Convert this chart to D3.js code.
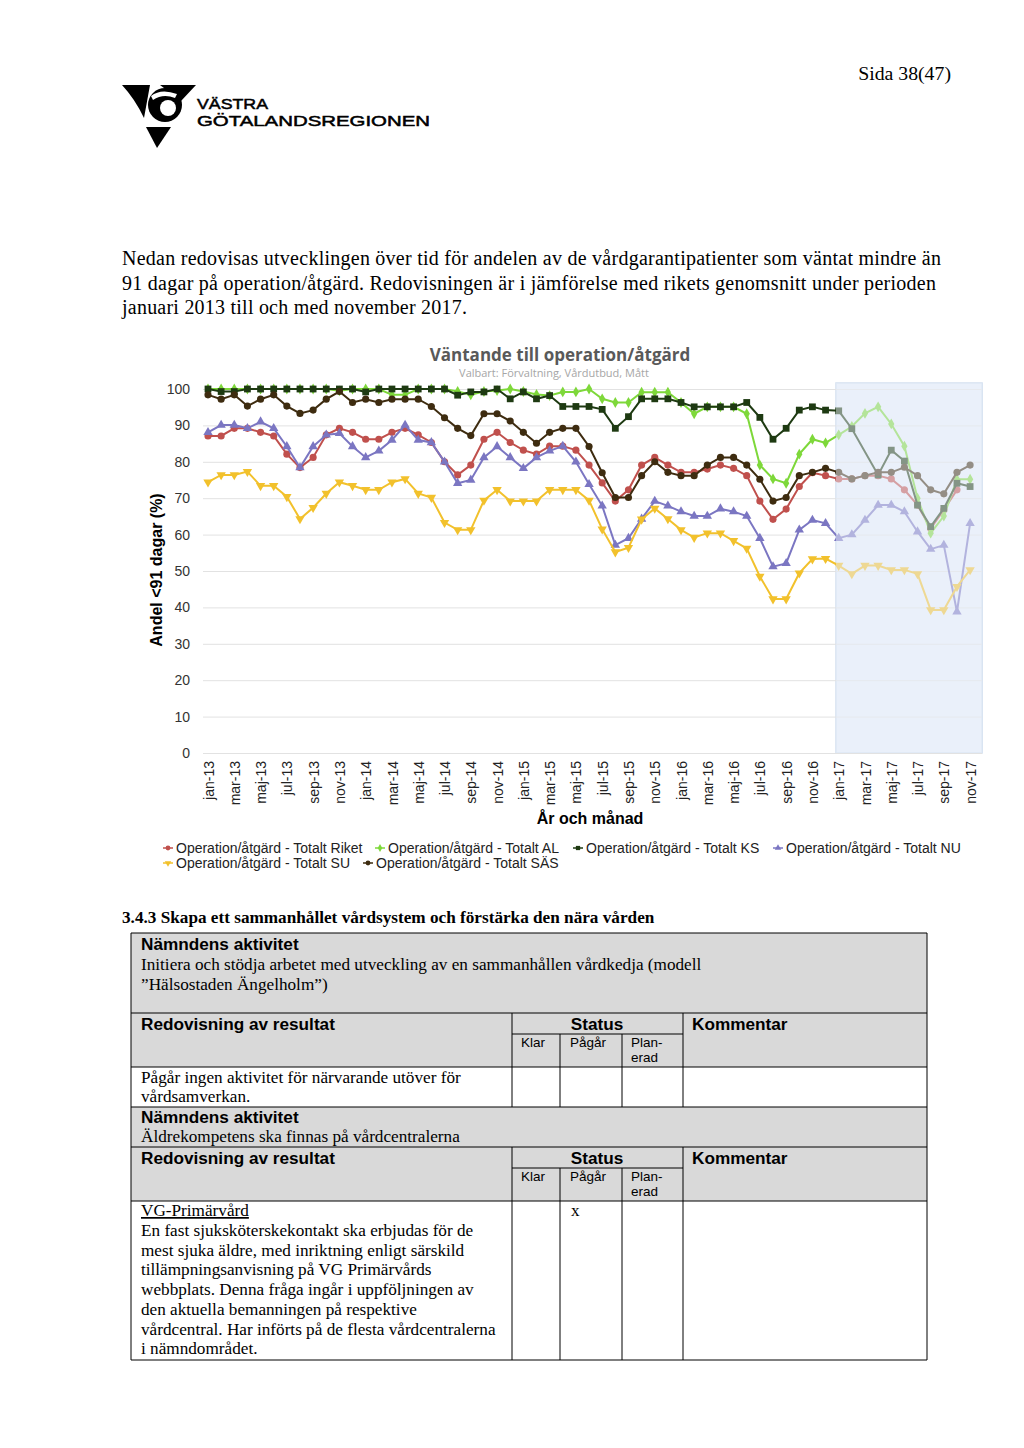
<!DOCTYPE html>
<html><head><meta charset="utf-8">
<script src="https://cdn.jsdelivr.net/npm/d3@7"></script>
<style>body{margin:0;background:#fff} svg{display:block}</style>
</head><body>
<svg id="page" width="1024" height="1448"></svg>
<script>
// ---------- DATA ----------
const months = [
 "jan-13","feb-13","mar-13","apr-13","maj-13","jun-13","jul-13","aug-13","sep-13","okt-13","nov-13","dec-13",
 "jan-14","feb-14","mar-14","apr-14","maj-14","jun-14","jul-14","aug-14","sep-14","okt-14","nov-14","dec-14",
 "jan-15","feb-15","mar-15","apr-15","maj-15","jun-15","jul-15","aug-15","sep-15","okt-15","nov-15","dec-15",
 "jan-16","feb-16","mar-16","apr-16","maj-16","jun-16","jul-16","aug-16","sep-16","okt-16","nov-16","dec-16",
 "jan-17","feb-17","mar-17","apr-17","maj-17","jun-17","jul-17","aug-17","sep-17","okt-17","nov-17"];
const xTickLabels = ["jan-13","mar-13","maj-13","jul-13","sep-13","nov-13","jan-14","mar-14","maj-14","jul-14","sep-14","nov-14",
 "jan-15","mar-15","maj-15","jul-15","sep-15","nov-15","jan-16","mar-16","maj-16","jul-16","sep-16","nov-16",
 "jan-17","mar-17","maj-17","jul-17","sep-17","nov-17"];
const yTicks = [0,10,20,30,40,50,60,70,80,90,100];
const highlightStart = "jan-17", highlightEnd = "nov-17";

const riket = [87.1,87.1,89.2,89.2,88.1,87.1,82.1,78.4,81.2,87.4,89.2,88.1,
 86.2,86.2,88.1,89.2,87.4,85.3,80.0,76.4,79.1,86.2,88.1,85.3,
 83.2,82.1,84.3,84.3,83.2,79.1,74.2,69.2,72.3,79.1,81.2,79.1,
 77.1,77.1,78.0,79.1,78.2,76.2,69.2,64.2,67.0,73.2,77.0,76.2,
 75.3,75.3,76.2,76.2,75.3,72.3,68.1,61.7,66.8,72.3,null];
const al = [100,100,100,100,100,100,100,100,100,100,99.5,100,
 100,100,98.4,98.4,100,100,100,99.3,98.4,99.3,99.6,100,
 99.3,98.5,98.2,99.2,99.2,100,97.3,96.3,96.3,99.1,99.1,99.1,
 96.3,93.2,95.1,95.1,95.1,93.2,79.1,75.3,74.1,82.1,86.2,85.2,
 87.4,89.7,93.3,95.1,90.4,84.3,70.0,60.4,65.1,75.2,75.2];
const ks = [100,99.3,99.3,100,100,100,100,100,100,100,100,100,
 99.2,100,100,100,100,100,100,98.3,99.2,99.2,100,97.3,
 99.2,97.3,98.2,95.2,95.2,95.2,94.4,89.2,92.4,97.3,97.3,97.3,
 96.3,95.1,95.1,95.1,95.1,96.3,92.2,86.2,89.2,94.2,95.1,94.2,
 94.0,89.1,null,76.4,83.2,80.2,68.1,62.2,67.2,74.1,73.2];
const nu = [88.1,90.1,90.1,89.2,91.0,89.2,84.2,78.4,84.2,87.4,87.8,84.2,
 81.2,83.0,86.0,90.1,86.0,85.3,80.0,74.1,75.0,81.2,84.2,81.2,
 78.2,81.2,83.0,84.3,80.0,73.8,67.9,57.1,59.0,64.3,69.2,67.9,
 66.3,65.1,65.1,67.1,66.3,65.1,59.0,51.2,52.1,61.3,64.0,63.1,
 59.0,60.0,64.0,68.1,68.1,66.3,60.8,56.0,57.1,38.8,63.1];
const su = [74.4,76.4,76.4,77.3,73.4,73.4,70.4,64.3,67.4,71.3,74.4,73.4,
 72.3,72.3,74.4,75.3,71.3,70.2,63.3,61.3,61.3,69.4,72.3,69.2,
 69.2,69.2,72.3,72.3,72.3,69.4,61.5,55.2,56.4,64.2,67.2,64.3,
 61.3,59.2,60.4,60.4,58.3,56.2,48.5,42.3,42.3,49.4,53.3,53.4,
 51.5,49.2,51.5,51.5,50.3,50.3,49.2,39.3,39.3,45.7,50.3];
const sas = [98.4,97.2,98.4,95.3,97.2,98.4,95.3,93.3,94.2,97.2,99.3,96.3,
 97.2,96.3,97.2,97.2,97.2,95.2,92.1,89.2,87.2,93.2,93.2,91.2,
 88.1,85.1,88.1,89.2,89.2,84.2,77.0,70.2,70.2,76.2,80.0,77.1,
 76.2,76.2,79.1,81.2,81.2,79.1,75.2,69.2,70.2,76.2,77.1,78.2,
 77.1,75.3,76.2,77.1,77.1,78.5,76.2,72.3,71.2,77.1,79.1];

const seriesNames = ["Operation/åtgärd - Totalt Riket","Operation/åtgärd - Totalt AL","Operation/åtgärd - Totalt KS",
 "Operation/åtgärd - Totalt NU","Operation/åtgärd - Totalt SU","Operation/åtgärd - Totalt SÄS"];
const seriesValues = [riket, al, ks, nu, su, sas];
const seriesColors = ["#C0504D","#7ED83A","#1E3A12","#7B76C2","#F2C12C","#3E2C10"];
const seriesMarkers = ["circle","diamond","square","triangle","triangleDown","circle"];

// ---------- PAGE ----------
const svg = d3.select("#page");
const serif = "'Liberation Serif','Times New Roman',serif";
const sans = "'Liberation Sans',Arial,sans-serif";

svg.append("text").attr("x",951).attr("y",80).attr("text-anchor","end")
  .style("font-family",serif).style("font-size","19.8px").text("Sida 38(47)");

// logo
const logo = svg.append("g").attr("fill","#000");
logo.append("path").attr("d","M122,85 L150,85 L144,118 Q135,99 122,85 Z");
logo.append("path").attr("d","M160,85 L196,85 L181,101 Z");
logo.append("circle").attr("cx",165).attr("cy",105).attr("r",17);
logo.append("circle").attr("cx",168).attr("cy",108).attr("r",8).attr("fill","#fff");
logo.append("path").attr("d","M151,96 Q161,88 177,94 L175,98 Q163,93 153,100 Z").attr("fill","#fff");
logo.append("path").attr("d","M146,127 L171,127 L157,148 Z");
logo.append("text").attr("x",197).attr("y",109).attr("textLength",71).attr("lengthAdjust","spacingAndGlyphs")
  .attr("stroke","#000").attr("stroke-width",0.5)
  .style("font-family",sans).style("font-size","15px").text("VÄSTRA");
logo.append("text").attr("x",197).attr("y",126).attr("textLength",233).attr("lengthAdjust","spacingAndGlyphs")
  .attr("stroke","#000").attr("stroke-width",0.5)
  .style("font-family",sans).style("font-size","15px").text("GÖTALANDSREGIONEN");

const para = ["Nedan redovisas utvecklingen över tid för andelen av de vårdgarantipatienter som väntat mindre än",
 "91 dagar på operation/åtgärd. Redovisningen är i jämförelse med rikets genomsnitt under perioden",
 "januari 2013 till och med november 2017."];
const paraW = [819, 814, 345];
para.forEach((t,i)=>{
  svg.append("text").attr("x",122).attr("y",265+i*24.5).attr("textLength",paraW[i]).attr("lengthAdjust","spacing")
   .style("font-family",serif).style("font-size","20px").text(t);
});

// ---------- CHART ----------
const plotL = 203, plotR = 982, yTop = 389, yBot = 753;
const x = d3.scalePoint().domain(months).range([208, 970.1]);
const y = d3.scaleLinear().domain([0,100]).range([yBot, yTop]);
const chart = svg.append("g");

chart.append("text").attr("x",560).attr("y",361).attr("text-anchor","middle")
  .style("font-family","'Open Sans',sans-serif").style("font-weight","700").style("font-size","17px")
  .attr("fill","#595959").text("Väntande till operation/åtgärd");
chart.append("text").attr("x",554).attr("y",377).attr("text-anchor","middle")
  .style("font-family","'Open Sans',sans-serif").style("font-size","11px")
  .attr("fill","#a6a6a6").text("Valbart: Förvaltning, Vårdutbud, Mått");

// highlight band background
const bandX0 = x(highlightStart) - 2.7, bandX1 = x(highlightEnd) + 12;
chart.append("rect").attr("x",bandX0).attr("y",383).attr("width",bandX1-bandX0).attr("height",yBot-383)
  .attr("fill","#eaf1fa").attr("stroke","#d3e0f0").attr("stroke-width",1.5);

// y axis + grid
const yAxis = chart.append("g").attr("transform",`translate(${plotL},0)`)
  .call(d3.axisLeft(y).tickValues(yTicks).tickSize(-(plotR-plotL)).tickPadding(13).tickFormat(d3.format("d")));
yAxis.select(".domain").remove();
yAxis.selectAll(".tick line").attr("stroke","#e2e2e2");
yAxis.selectAll(".tick text").style("font-family",sans).style("font-size","14px").attr("fill","#333");

// x axis
const xAxis = chart.append("g").attr("transform",`translate(0,${yBot})`)
  .call(d3.axisBottom(x).tickValues(xTickLabels).tickSize(0));
xAxis.select(".domain").remove();
xAxis.selectAll(".tick text").attr("transform","rotate(-90)").attr("x",-8).attr("y",0).attr("dy","0.36em")
  .attr("text-anchor","end").style("font-family",sans).style("font-size","14px").attr("fill","#222");

chart.append("text").attr("transform","translate(162,570) rotate(-90)").attr("text-anchor","middle")
  .style("font-family",sans).style("font-weight","700").style("font-size","16px").text("Andel <91 dagar (%)");
chart.append("text").attr("x",590).attr("y",824).attr("text-anchor","middle")
  .style("font-family",sans).style("font-weight","700").style("font-size","16px").text("År och månad");

// series
function symType(type){
  if(type==="circle") return d3.symbolCircle;
  if(type==="diamond") return d3.symbolDiamond;
  if(type==="square") return d3.symbolSquare;
  return d3.symbolTriangle;
}
const markerSize = {circle:40, diamond:34, square:46, triangle:38, triangleDown:38};
const line = d3.line().x(d=>x(d.m)).y(d=>y(d.v));
seriesValues.forEach((vals,si)=>{
  const pts = months.map((m,i)=>({m, v: vals[i]})).filter(d=>d.v!==null);
  const g = chart.append("g");
  const mt = seriesMarkers[si];
  g.append("path").datum(pts).attr("d",line).attr("fill","none")
    .attr("stroke",seriesColors[si]).attr("stroke-width",2);
  g.selectAll("path.mk").data(pts).join("path").attr("class","mk")
    .attr("d",d3.symbol(symType(mt), markerSize[mt])())
    .attr("transform",d=>`translate(${x(d.m)},${y(d.v)})${mt==="triangleDown"?" rotate(180)":""}`)
    .attr("fill",seriesColors[si]);
});

// fade overlay for highlight band
chart.append("rect").attr("x",bandX0).attr("y",383).attr("width",bandX1-bandX0).attr("height",yBot-383)
  .attr("fill","#e9f0f9").attr("opacity",0.5);

// legend
const legendPos = [[168,848],[380,848],[578,848],[778,848],[168,863],[368,863]];
seriesNames.forEach((n,i)=>{
  const [lx,ly] = legendPos[i];
  const mt = seriesMarkers[i];
  const g = chart.append("g").attr("transform",`translate(${lx},${ly})`);
  g.append("line").attr("x1",-5).attr("x2",5).attr("stroke",seriesColors[i]).attr("stroke-width",1.5);
  g.append("path").attr("d",d3.symbol(symType(mt), 18)())
    .attr("transform",mt==="triangleDown"?"rotate(180)":null).attr("fill",seriesColors[i]);
  g.append("text").attr("x",8).attr("y",5).style("font-family",sans).style("font-size","14px").attr("fill","#222").text(n);
});

// ---------- SECTION + TABLE ----------
svg.append("text").attr("x",122).attr("y",923).style("font-family",serif).style("font-weight","700")
  .style("font-size","17.2px").text("3.4.3 Skapa ett sammanhållet vårdsystem och förstärka den nära vården");

const T = svg.append("g");
const L=131, R=927, c1=512, c2=560, c3=622, c4=683;
const rows=[933,1013,1067,1107,1147,1201,1360];
const grey=[true,true,false,true,true,false];
for(let i=0;i<6;i++){
  T.append("rect").attr("x",L).attr("y",rows[i]).attr("width",R-L).attr("height",rows[i+1]-rows[i])
   .attr("fill",grey[i]?"#d9d9d9":"#fff");
}
function hl(x1,x2,yy){T.append("line").attr("x1",x1).attr("x2",x2).attr("y1",yy).attr("y2",yy).attr("stroke","#000").attr("stroke-width",1);}
function vl(xx,y1,y2){T.append("line").attr("x1",xx).attr("x2",xx).attr("y1",y1).attr("y2",y2).attr("stroke","#000").attr("stroke-width",1);}
rows.forEach(r=>hl(L,R,r));
vl(L,933,1360); vl(R,933,1360);
[[1013,1067,1034],[1147,1201,1168]].forEach(([a,b,s])=>{
  vl(c1,a,b); vl(c4,a,b); hl(c1,c4,s); vl(c2,s,b); vl(c3,s,b);
});
[[1067,1107],[1201,1360]].forEach(([a,b])=>{ [c1,c2,c3,c4].forEach(c=>vl(c,a,b)); });

function tx(xx,yy,t,opt={}){
  const e=T.append("text").attr("x",xx).attr("y",yy).text(t)
   .style("font-family",opt.sans?sans:serif).style("font-size",(opt.size||17.2)+"px");
  if(opt.bold) e.style("font-weight","700");
  if(opt.anchor) e.attr("text-anchor",opt.anchor);
  if(opt.u) e.style("text-decoration","underline");
  return e;
}
tx(141,950,"Nämndens aktivitet",{sans:1,bold:1,size:17.2});
tx(141,970,"Initiera och stödja arbetet med utveckling av en sammanhållen vårdkedja (modell");
tx(141,990,"”Hälsostaden Ängelholm”)");
function header(by){
  tx(141,by,"Redovisning av resultat",{sans:1,bold:1,size:17.2});
  tx(597,by,"Status",{sans:1,bold:1,size:17.2,anchor:"middle"});
  tx(692,by,"Kommentar",{sans:1,bold:1,size:17.2});
  tx(521,by+17,"Klar",{sans:1,size:13.5});
  tx(570,by+17,"Pågår",{sans:1,size:13.5});
  tx(631,by+17,"Plan-",{sans:1,size:13.5});
  tx(631,by+32,"erad",{sans:1,size:13.5});
}
header(1030);
tx(141,1083,"Pågår ingen aktivitet för närvarande utöver för");
tx(141,1102,"vårdsamverkan.");
tx(141,1123,"Nämndens aktivitet",{sans:1,bold:1,size:17.2});
tx(141,1142,"Äldrekompetens ska finnas på vårdcentralerna");
header(1164);
tx(141,1216,"VG-Primärvård",{u:1});
tx(571,1216,"x");
const body=["En fast sjuksköterskekontakt ska erbjudas för de","mest sjuka äldre, med inriktning enligt särskild",
 "tillämpningsanvisning på VG Primärvårds","webbplats. Denna fråga ingår i uppföljningen av",
 "den aktuella bemanningen på respektive","vårdcentral. Har införts på de flesta vårdcentralerna","i nämndområdet."];
body.forEach((t,i)=>tx(141,1236+i*19.7,t));
</script>
</body></html>
